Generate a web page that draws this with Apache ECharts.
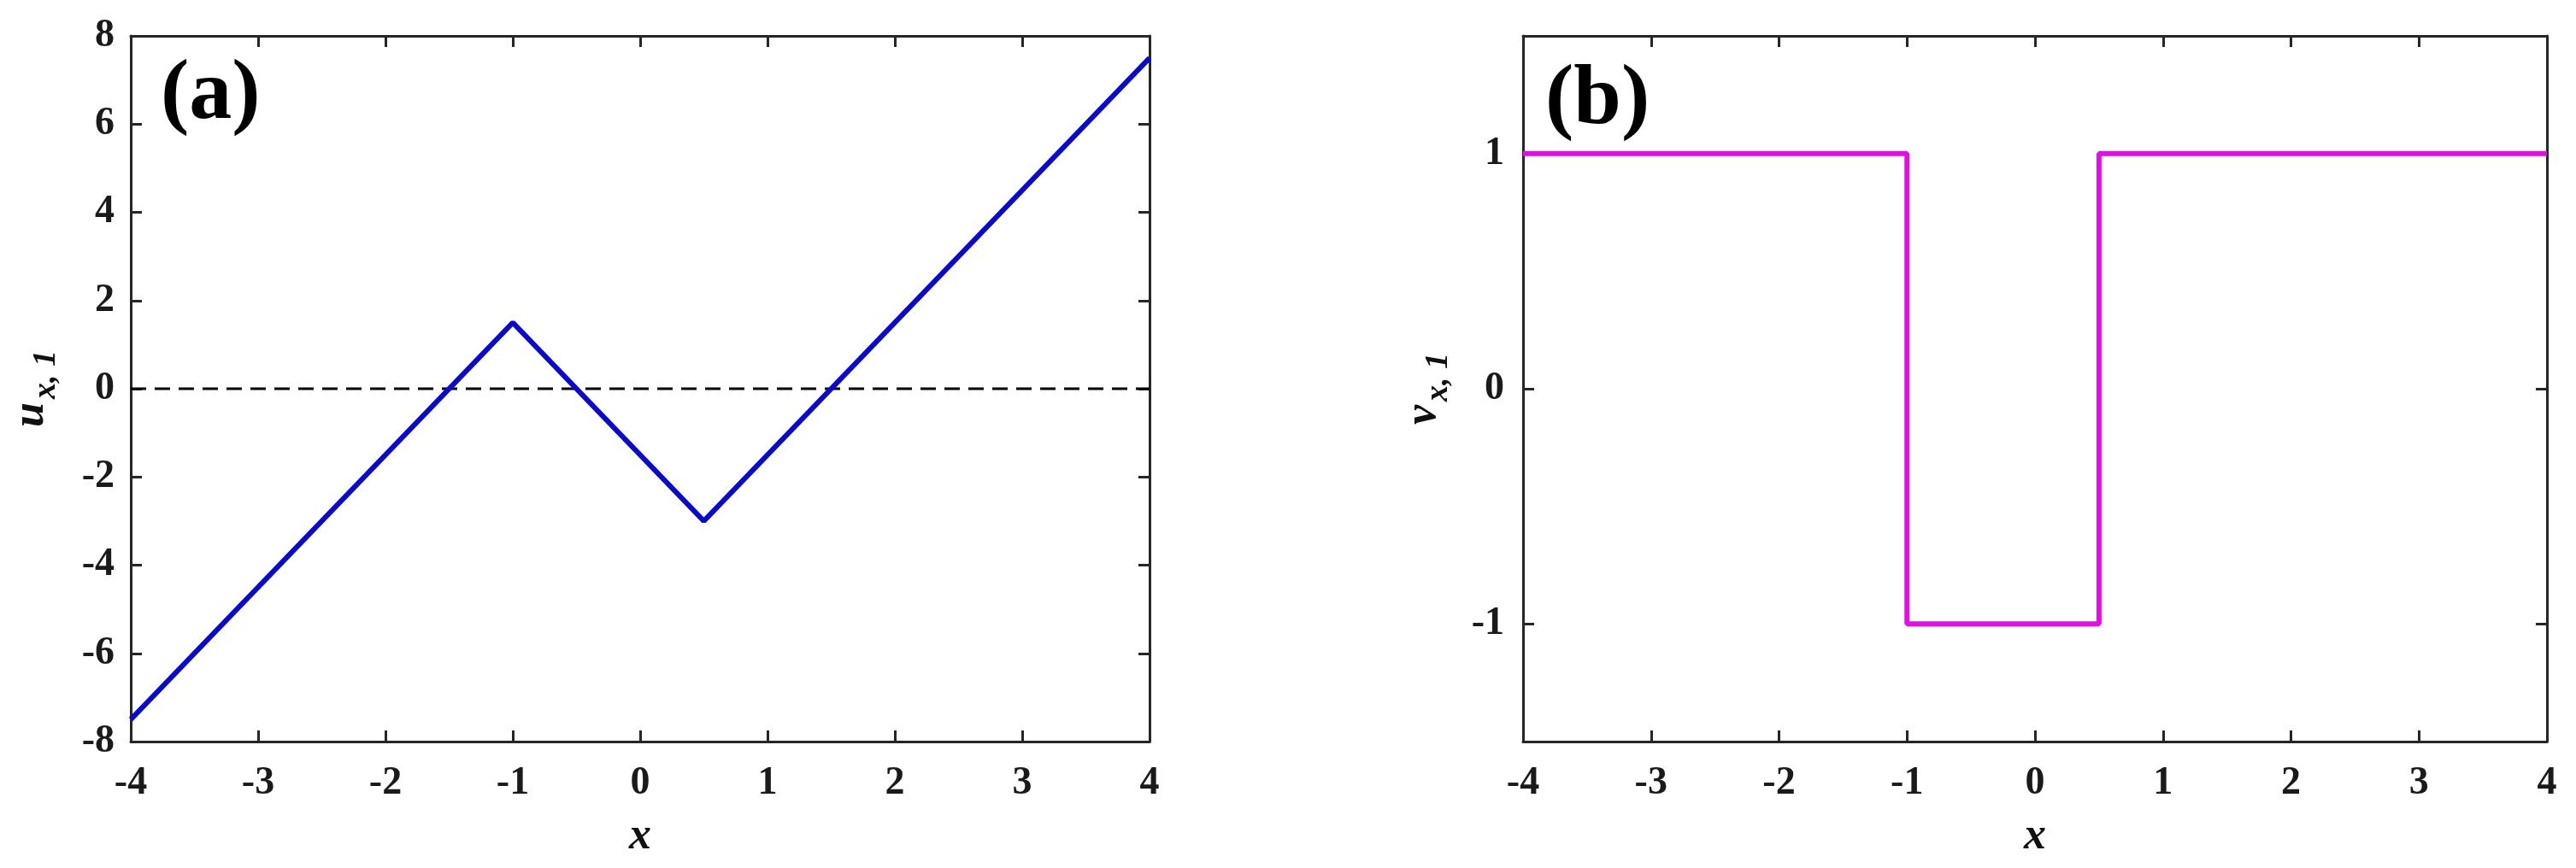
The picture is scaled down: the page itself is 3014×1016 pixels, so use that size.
<!DOCTYPE html>
<html lang="en">
<head>
    <meta charset="UTF-8">
    <title>u_x,1 and v_x,1</title>
    <script src="https://cdn.jsdelivr.net/npm/echarts@6/dist/echarts.min.js"></script>
    <style>
        html, body { margin: 0; padding: 0; background: #fff; }
        #main { width: 3014px; height: 1016px; }
    </style>
</head>
<body>
<div id="main"></div>
<script type="text/javascript">
    // (a) piecewise linear u_{x,1}
    var uX = [-4, -1, 0.5, 4];
    var uY = [-7.5, 1.5, -3, 7.5];
    // dashed zero line
    var zeroX = [-4, 4];
    var zeroY = [0, 0];
    // (b) step function v_{x,1}
    var vX = [-4, -1, -1, 0.5, 0.5, 4];
    var vY = [1, 1, -1, -1, 1, 1];

    var xTicks = [-4, -3, -2, -1, 0, 1, 2, 3, 4];
    var uTicks = [-8, -6, -4, -2, 0, 2, 4, 6, 8];
    var vTicks = [-1, 0, 1];

    function pairs(xs, ys) {
        return xs.map(function (x, i) { return [x, ys[i]]; });
    }

    var FONT = 'Liberation Serif';
    var axisColor = '#262626';

    function boxAxis(opt) {
        // MATLAB-like box: ticks inside, no grid
        var base = {
            gridIndex: opt.grid,
            type: 'value',
            min: opt.min,
            max: opt.max,
            position: opt.position,
            axisLine: { show: true, onZero: false, lineStyle: { color: axisColor, width: 3 } },
            axisTick: { show: true, inside: true, length: 13, lineStyle: { color: axisColor, width: 3 }, customValues: opt.ticks },
            splitLine: { show: false },
            axisLabel: {
                show: opt.labels,
                fontFamily: FONT,
                fontWeight: 'bold',
                fontSize: 46,
                color: '#1a1a1a',
                margin: opt.margin || 20,
                customValues: opt.ticks
            }
        };
        if (opt.name) {
            base.name = opt.name;
            base.nameLocation = 'middle';
            base.nameGap = opt.nameGap;
            base.nameRotate = opt.nameRotate || 0;
            base.nameTextStyle = {
                fontFamily: FONT,
                color: '#111',
                rich: {
                    i: { fontFamily: FONT, fontStyle: 'italic', fontWeight: 'bold', fontSize: 52, lineHeight: 52, verticalAlign: 'middle', color: '#111' },
                    s: { fontFamily: FONT, fontStyle: 'italic', fontWeight: 'bold', fontSize: 38, lineHeight: 34, padding: [34, 0, 0, 4], verticalAlign: 'middle', color: '#111' }
                }
            };
        }
        return base;
    }

    var myChart = echarts.init(document.getElementById('main'));

    myChart.setOption({
        animation: false,
        backgroundColor: '#ffffff',
        grid: [
            { left: 147, top: 42, width: 1198, height: 826 },
            { left: 1782, top: 42, width: 1198, height: 826 }
        ],
        xAxis: [
            boxAxis({ grid: 0, min: -4, max: 4, position: 'bottom', labels: true, margin: 26, ticks: xTicks, name: '{i|x}', nameGap: 86 }),
            boxAxis({ grid: 0, min: -4, max: 4, position: 'top', labels: false, ticks: xTicks }),
            boxAxis({ grid: 1, min: -4, max: 4, position: 'bottom', labels: true, margin: 26, ticks: xTicks, name: '{i|x}', nameGap: 86 }),
            boxAxis({ grid: 1, min: -4, max: 4, position: 'top', labels: false, ticks: xTicks })
        ],
        yAxis: [
            boxAxis({ grid: 0, min: -8, max: 8, position: 'left', labels: true, margin: 19, ticks: uTicks, name: '{i|u}{s|x, 1}', nameGap: 90, nameRotate: 90 }),
            boxAxis({ grid: 0, min: -8, max: 8, position: 'right', labels: false, ticks: uTicks }),
            boxAxis({ grid: 1, min: -1.5, max: 1.5, position: 'left', labels: true, margin: 22, ticks: vTicks, name: '{i|v}{s|x, 1}', nameGap: 90, nameRotate: 90 }),
            boxAxis({ grid: 1, min: -1.5, max: 1.5, position: 'right', labels: false, ticks: vTicks })
        ],
        graphic: [
            { type: 'text', left: 188, top: 62, style: { text: '(a)', font: 'bold 100px "Liberation Serif"', fill: '#000' } },
            { type: 'text', left: 1808, top: 68, style: { text: '(b)', font: 'bold 100px "Liberation Serif"', fill: '#000' } }
        ],
        series: [
            {
                type: 'line', xAxisIndex: 0, yAxisIndex: 0,
                data: pairs(zeroX, zeroY),
                symbol: 'none',
                lineStyle: { color: '#000', width: 3, type: [18, 10] },
                z: 2
            },
            {
                type: 'line', xAxisIndex: 0, yAxisIndex: 0,
                data: pairs(uX, uY),
                symbol: 'none',
                lineStyle: { color: '#0a0ac8', width: 6 },
                z: 3
            },
            {
                type: 'line', xAxisIndex: 2, yAxisIndex: 2,
                data: pairs(vX, vY),
                symbol: 'none',
                lineStyle: { color: '#e010e0', width: 6 },
                z: 3
            }
        ]
    });
</script>
</body>
</html>
